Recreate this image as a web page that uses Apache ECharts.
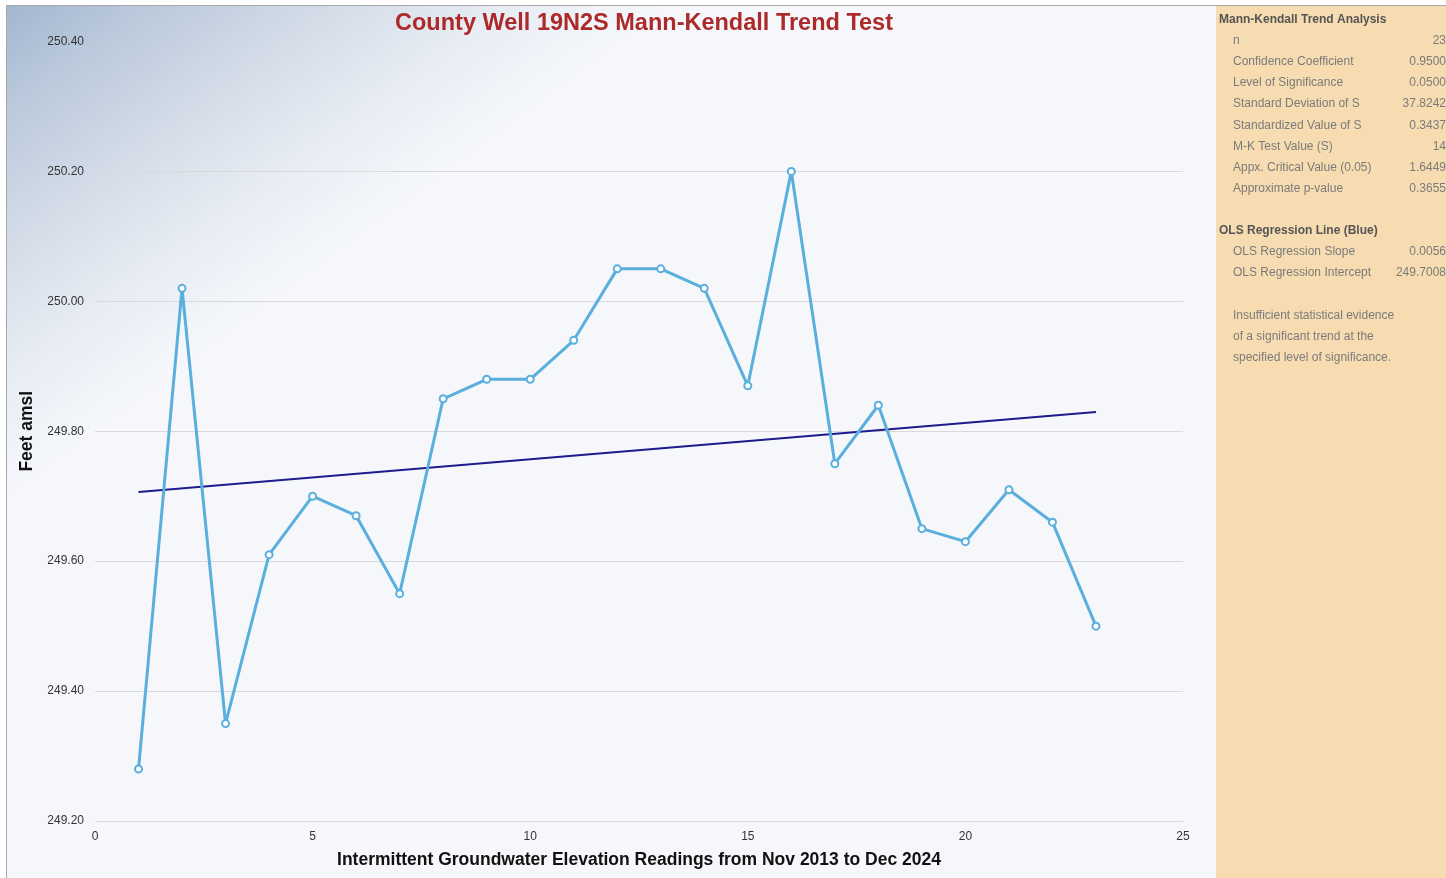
<!DOCTYPE html>
<html>
<head>
<meta charset="utf-8">
<script src="https://cdn.jsdelivr.net/npm/echarts@6/dist/echarts.min.js"></script>
<style>
  html, body { margin: 0; padding: 0; background: #fff; }
  #chart { width: 1446px; height: 878px; }
</style>
</head>
<body>
<div id="chart"></div>
<script>
  // readings (index, feet amsl)
  var readingIdx = [1, 2, 3, 4, 5, 6, 7, 8, 9, 10, 11, 12, 13, 14, 15, 16, 17, 18, 19, 20, 21, 22, 23];
  var elevation = [249.28, 250.02, 249.35, 249.61, 249.70, 249.67, 249.55, 249.85, 249.88, 249.88, 249.94,
    250.05, 250.05, 250.02, 249.87, 250.20, 249.75, 249.84, 249.65, 249.63, 249.71, 249.66, 249.50];

  // OLS line end points
  var olsX = [1, 23];
  var olsY = [249.7064, 249.8296];

  var mkLabels = ["n", "Confidence Coefficient", "Level of Significance", "Standard Deviation of S",
    "Standardized Value of S", "M-K Test Value (S)", "Appx. Critical Value (0.05)", "Approximate p-value"];
  var mkValues = ["23", "0.9500", "0.0500", "37.8242", "0.3437", "14", "1.6449", "0.3655"];
  var olsLabels = ["OLS Regression Slope", "OLS Regression Intercept"];
  var olsValues = ["0.0056", "249.7008"];
  var noteLines = ["Insufficient statistical evidence", "of a significant trend at the", "specified level of significance."];

  var chart = echarts.init(document.getElementById("chart"));

  var panelFont = "12px 'Liberation Sans', Arial, sans-serif";
  var graphics = [
    {
      type: "rect", z: -10, silent: true,
      shape: {x: 6, y: 5, width: 1210, height: 873},
      style: {
        fill: new echarts.graphic.LinearGradient(6, 5, 240, 320, [
          {offset: 0, color: "#a2b6d0"},
          {offset: 0.2, color: "#b9c8db"},
          {offset: 0.5, color: "#d4dce8"},
          {offset: 0.75, color: "#e7ecf3"},
          {offset: 1, color: "#f5f7fb"}
        ], true)
      }
    },
    {type: "rect", z: -10, silent: true, shape: {x: 1216, y: 6, width: 230, height: 872}, style: {fill: "#f6dcb0"}},
    {type: "line", silent: true, shape: {x1: 6, y1: 5.5, x2: 1446, y2: 5.5}, style: {stroke: "#a8a8a8", lineWidth: 1}},
    {type: "line", silent: true, shape: {x1: 6.5, y1: 5, x2: 6.5, y2: 878}, style: {stroke: "#a8a8a8", lineWidth: 1}},
    {
      type: "text", left: 1219, top: 14,
      style: {text: "Mann-Kendall Trend Analysis", font: "bold 12px 'Liberation Sans', Arial, sans-serif", fill: "#555", letterSpacing: -0.4}
    },
    {
      type: "text", left: 1219, top: 225,
      style: {text: "OLS Regression Line (Blue)", font: "bold 12px 'Liberation Sans', Arial, sans-serif", fill: "#555", letterSpacing: -0.4}
    }
  ];

  function addRows(labels, values, y0) {
    labels.forEach(function (lab, i) {
      var y = y0 + i * 21.2;
      graphics.push({type: "text", x: 1233, y: y, style: {text: lab, font: panelFont, fill: "#7b7b7b", textVerticalAlign: "middle"}});
      graphics.push({type: "text", x: 1446, y: y, style: {text: values[i], font: panelFont, fill: "#7b7b7b", textAlign: "right", textVerticalAlign: "middle"}});
    });
  }
  addRows(mkLabels, mkValues, 40.5);
  addRows(olsLabels, olsValues, 251.5);
  noteLines.forEach(function (t, i) {
    graphics.push({type: "text", x: 1233, y: 315.5 + i * 21, style: {text: t, font: panelFont, fill: "#7b7b7b", textVerticalAlign: "middle"}});
  });

  chart.setOption({
    animation: false,
    title: {
      text: "County Well 19N2S Mann-Kendall Trend Test",
      left: 639,
      textAlign: "center",
      top: 7,
      textStyle: {color: "#ad2a2a", fontSize: 23.5, fontWeight: "bold", fontFamily: "'Liberation Sans', Arial, sans-serif"}
    },
    grid: {left: 95, right: 263, top: 41.5, bottom: 57},
    xAxis: {
      type: "value",
      min: 0,
      max: 25,
      interval: 5,
      name: "Intermittent Groundwater Elevation Readings from Nov 2013 to Dec 2024",
      nameLocation: "middle",
      nameGap: 30,
      nameTextStyle: {color: "#111", fontSize: 17.5, fontWeight: "bold", fontFamily: "'Liberation Sans', Arial, sans-serif"},
      axisLine: {show: false},
      axisTick: {show: false},
      splitLine: {show: false},
      axisLabel: {color: "#333", fontSize: 12, margin: 10, fontFamily: "'Liberation Sans', Arial, sans-serif"}
    },
    yAxis: {
      type: "value",
      min: 249.2,
      max: 250.4,
      interval: 0.2,
      name: "Feet amsl",
      nameLocation: "middle",
      nameGap: 58,
      nameRotate: 90,
      nameTextStyle: {color: "#111", fontSize: 17.5, fontWeight: "bold", fontFamily: "'Liberation Sans', Arial, sans-serif"},
      axisLine: {show: false},
      axisTick: {show: false},
      splitLine: {lineStyle: {color: ["#d9d9d9", "#d9d9d9", "#d9d9d9", "#d9d9d9", "#d9d9d9", "#d9d9d9", "rgba(0,0,0,0)"], width: 1}},
      axisLabel: {
        color: "#333", fontSize: 12, margin: 11, fontFamily: "'Liberation Sans', Arial, sans-serif",
        formatter: function (v) { return v.toFixed(2); }
      }
    },
    graphic: graphics,
    series: [
      {
        name: "OLS",
        type: "line",
        data: olsX.map(function (x, i) { return [x, olsY[i]]; }),
        symbol: "none",
        lineStyle: {color: "#1c1c8f", width: 2},
        z: 3
      },
      {
        name: "Elevation",
        type: "line",
        data: readingIdx.map(function (x, i) { return [x, elevation[i]]; }),
        symbol: "emptyCircle",
        symbolSize: 7,
        itemStyle: {color: "#5aafdd", borderWidth: 2},
        lineStyle: {color: "#5aafdd", width: 3},
        z: 4
      }
    ]
  });
</script>
</body>
</html>
